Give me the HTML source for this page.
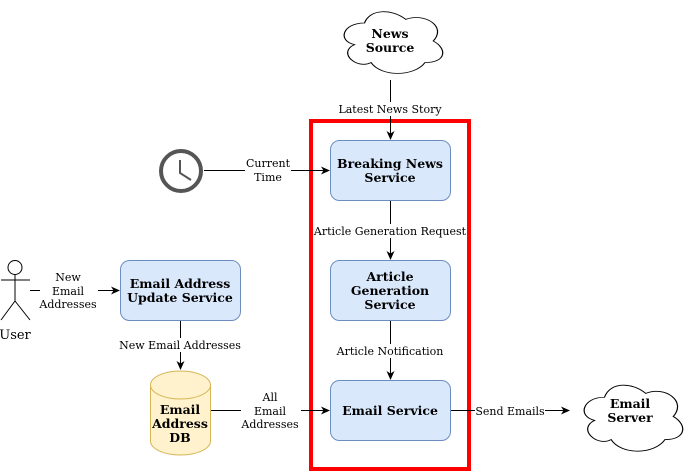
<!DOCTYPE html>
<html><head><style>body{margin:0;background:#fff}svg{display:block}</style></head><body>
<svg width="691" height="475" viewBox="0 0 691 475" xmlns="http://www.w3.org/2000/svg" font-family="'DejaVu Serif', 'Liberation Serif', serif">
<defs>
<marker id="a" markerWidth="10" markerHeight="10" refX="8" refY="5" orient="auto" markerUnits="userSpaceOnUse"><path d="M0,1 L9,5 L0,9 L2.5,5 Z" fill="#000"/></marker>
<path id="cloud" d="M0.25,0.25 C0.05,0.25 0,0.5 0.16,0.55 C0,0.66 0.18,0.9 0.31,0.8 C0.4,1 0.7,1 0.8,0.8 C1,0.8 1,0.6 0.875,0.5 C1,0.3 0.8,0.1 0.625,0.2 C0.5,0.05 0.3,0.05 0.25,0.25 Z"/>
</defs>
<use href="#cloud" transform="translate(337,5) scale(110,72)" fill="#fff" stroke="#000" style="stroke-width:0.011"/>
<use href="#cloud" transform="translate(577,378) scale(110,77)" fill="#fff" stroke="#000" style="stroke-width:0.011"/>
<g font-weight="bold" font-size="12.5" text-anchor="middle" fill="#000">
<text x="390" y="38">News</text><text x="390" y="52">Source</text>
<text x="630" y="408">Email</text><text x="630" y="422">Server</text>
</g>
<rect x="311" y="121" width="158" height="348" fill="none" stroke="#f00" stroke-width="4"/>
<g fill="#dae8fc" stroke="#6c8ebf">
<rect x="330.5" y="140.5" width="120" height="60" rx="9"/>
<rect x="330.5" y="260.5" width="120" height="60" rx="9"/>
<rect x="330.5" y="380.5" width="120" height="60" rx="9"/>
<rect x="120.5" y="260.5" width="120" height="60" rx="9"/>
</g>
<g font-weight="bold" font-size="12.5" text-anchor="middle">
<text x="390" y="168">Breaking News</text><text x="390" y="182">Service</text>
<text x="390" y="281">Article</text><text x="390" y="295">Generation</text><text x="390" y="309">Service</text>
<text x="390" y="415">Email Service</text>
<text x="180" y="288">Email Address</text><text x="180" y="302">Update Service</text>
</g>
<path d="M150.5,385 L150.5,441 A30,14 0 0 0 210.5,441 L210.5,385" fill="#fff2cc" stroke="#d6b656"/>
<ellipse cx="180.5" cy="385" rx="30" ry="14" fill="#fff2cc" stroke="#d6b656"/>
<g font-weight="bold" font-size="12.5" text-anchor="middle">
<text x="180" y="414">Email</text><text x="180" y="428">Address</text><text x="180" y="442">DB</text>
</g>
<circle cx="181" cy="171" r="20" fill="none" stroke="#555" stroke-width="4"/>
<path d="M180,160 L180,173 L191,180" fill="none" stroke="#555" stroke-width="2"/>
<g fill="none" stroke="#000">
<circle cx="15" cy="267.5" r="7"/>
<path d="M15,274.5 V301 M1,280 H30 M15,301 L1,320 M15,301 L30,320"/>
</g>
<text x="15" y="339" font-size="13" text-anchor="middle">User</text>
<g stroke="#000" fill="none" marker-end="url(#a)">
<path d="M390.5,80 V139"/>
<path d="M204,170.5 H329"/>
<path d="M390.5,201 V259"/>
<path d="M390.5,321 V379"/>
<path d="M30,290.5 H119"/>
<path d="M180.5,321 V369"/>
<path d="M211,410.5 H329"/>
<path d="M451,410.5 H569"/>
</g>
<g font-size="11" text-anchor="middle" fill="#000">
<rect x="337" y="102" width="106" height="14" fill="#fff"/><text x="390" y="113">Latest News Story</text>
<rect x="245" y="155" width="46" height="30" fill="#fff"/><text x="268" y="167">Current</text><text x="268" y="181">Time</text>
<rect x="313" y="224" width="154" height="14" fill="#fff"/><text x="390" y="235">Article Generation Request</text>
<rect x="336" y="344" width="108" height="14" fill="#fff"/><text x="390" y="355">Article Notification</text>
<rect x="40" y="270" width="58" height="42" fill="#fff"/><text x="68" y="281">New</text><text x="68" y="295">Email</text><text x="68" y="308">Addresses</text>
<rect x="118" y="338" width="124" height="14" fill="#fff"/><text x="180" y="349">New Email Addresses</text>
<rect x="241" y="390" width="60" height="42" fill="#fff"/><text x="270" y="401">All</text><text x="270" y="415">Email</text><text x="270" y="428">Addresses</text>
<rect x="475" y="404" width="70" height="14" fill="#fff"/><text x="510" y="415">Send Emails</text>
</g>
</svg>
</body></html>
